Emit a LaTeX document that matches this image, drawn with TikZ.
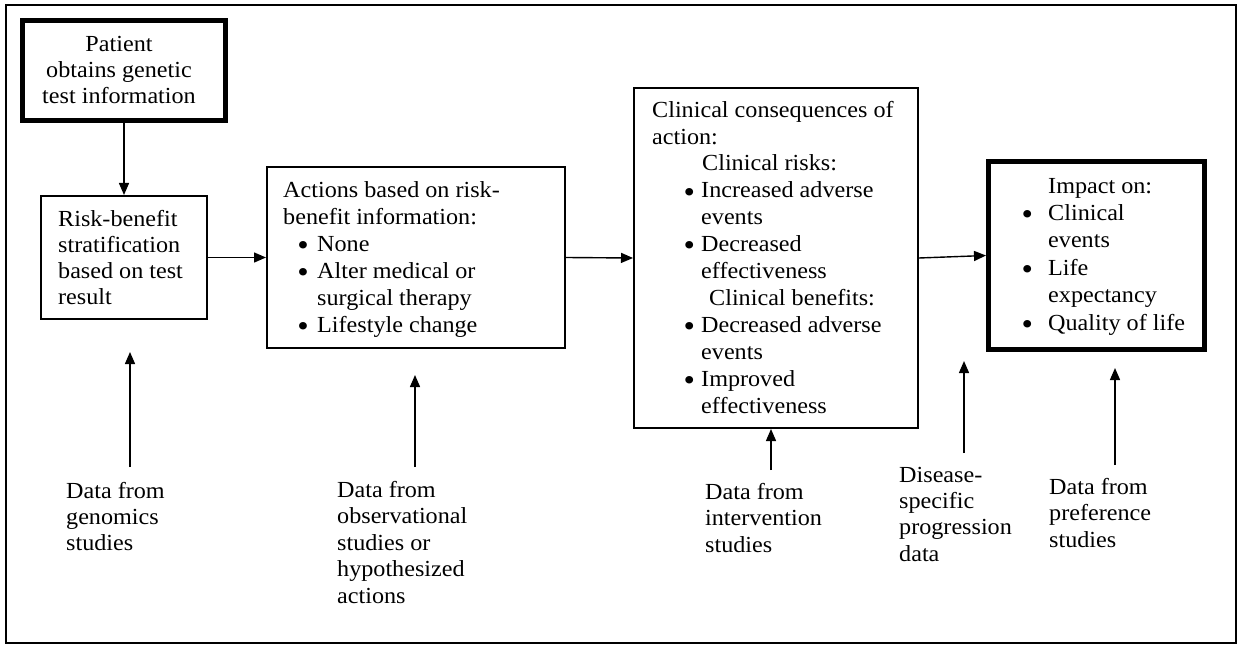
\documentclass[tikz,border=0pt]{standalone}
\usepackage{fontspec}
\setmainfont{Liberation Serif}[FakeStretch=1.05]
\usetikzlibrary{arrows.meta}
\newcommand\bigbul{\raisebox{-4.2pt}{\scalebox{1.35}{\textbullet}}}
\newcommand\bitem[3]{\hspace*{#1pt}\makebox[0pt]{\bigbul}\hspace*{\dimexpr #2pt-#1pt\relax}#3}
\newcommand\cont[2]{\hspace*{#1pt}#2}
\begin{document}
\begin{tikzpicture}[x=1pt,y=-1pt,
  thinbox/.style={draw, line width=2pt, inner sep=0pt},
  thickbox/.style={draw, line width=5pt, inner sep=0pt},
  txt/.style={anchor=base west, inner sep=0pt, align=left},
  arr/.style={line width=1.4pt, -{Triangle[length=12pt,width=10pt]}}]
\useasboundingbox (0,0) rectangle (1241,647);
\draw[line width=2pt] (6,5) rectangle (1236,643);
% boxes
\node[thickbox, minimum width=203pt, minimum height=100pt] (patient) at (124,70.5) {};
\node[thinbox, minimum width=166pt, minimum height=123pt] (risk) at (124,257.5) {};
\node[thinbox, minimum width=298pt, minimum height=181pt] (actions) at (416,257.5) {};
\node[thinbox, minimum width=284pt, minimum height=340pt] (clinical) at (776,258) {};
\node[thickbox, minimum width=216pt, minimum height=188pt] (impact) at (1096.5,255.5) {};
% box texts (anchor = baseline of last line)
\node[anchor=base, inner sep=0pt, align=center, font=\fontsize{23}{26}\selectfont] (ptxt) at (119,104)
  {Patient\\obtains genetic\\test information};
\node[txt, font=\fontsize{23}{25.7}\selectfont] (rtxt) at (58,304)
  {Risk-benefit\\stratification\\based on test\\result};
\node[txt, font=\fontsize{23}{27}\selectfont] (atxt) at (283,332)
  {Actions based on risk-\\benefit information:\\
   \bitem{20}{34}{None}\\
   \bitem{20}{34}{Alter medical or}\\
   \cont{34}{surgical therapy}\\
   \bitem{20}{34}{Lifestyle change}};
\node[txt, font=\fontsize{23}{26.9}\selectfont] (ctxt) at (652,413)
  {Clinical consequences of\\action:\\
   \cont{50}{Clinical risks:}\\
   \bitem{37}{49}{Increased adverse}\\
   \cont{49}{events}\\
   \bitem{37}{49}{Decreased}\\
   \cont{49}{effectiveness}\\
   \cont{57}{Clinical benefits:}\\
   \bitem{37}{49}{Decreased adverse}\\
   \cont{49}{events}\\
   \bitem{37}{49}{Improved}\\
   \cont{49}{effectiveness}};
\node[txt, font=\fontsize{23}{27.4}\selectfont] (itxt) at (1020,330)
  {\cont{28}{Impact on:}\\
   \bitem{7}{28}{Clinical}\\
   \cont{28}{events}\\
   \bitem{7}{28}{Life}\\
   \cont{28}{expectancy}\\
   \bitem{7}{28}{Quality of life}};
% data labels
\node[txt, font=\fontsize{23}{26}\selectfont] (l1) at (66,550) {Data from\\genomics\\studies};
\node[txt, font=\fontsize{23}{26.5}\selectfont] (l2) at (337,603) {Data from\\observational\\studies or\\hypothesized\\actions};
\node[txt, font=\fontsize{23}{26.5}\selectfont] (l3) at (705,552) {Data from\\intervention\\studies};
\node[txt, font=\fontsize{23}{26.3}\selectfont] (l4) at (899,561) {Disease-\\specific\\progression\\data};
\node[txt, font=\fontsize{23}{26.5}\selectfont] (l5) at (1049,547) {Data from\\preference\\studies};
% arrow ends
\coordinate (a1s) at (130,467); \coordinate (a1e) at (130,352);
\coordinate (a2s) at (415,467); \coordinate (a2e) at (415,375);
\coordinate (a3s) at (771,470);
\coordinate (a4s) at (964,453); \coordinate (a4e) at (964,361);
\coordinate (a5s) at (1115,465); \coordinate (a5e) at (1115,368);
% connectors
\draw[arr] (patient.south) -- (risk.north);
\draw[arr] (risk.east) -- (actions.west);
\draw[arr] (actions.east) -- (clinical.west);
\draw[arr] (clinical.east) -- (impact.west);
\draw[arr] (a1s) -- (a1e);
\draw[arr] (a2s) -- (a2e);
\draw[arr] (a3s) -- (a3s |- clinical.south);
\draw[arr] (a4s) -- (a4e);
\draw[arr] (a5s) -- (a5e);
\end{tikzpicture}
\end{document}
